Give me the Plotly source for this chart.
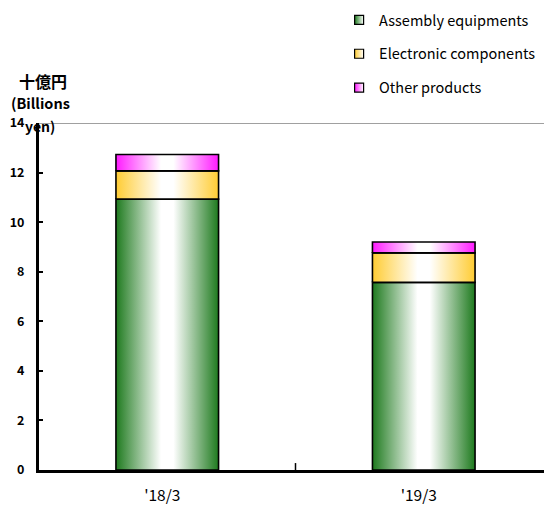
import plotly.graph_objects as go

categories = ["'18/3", "'19/3"]
series_names = ["Assembly equipments", "Electronic components", "Other products"]
assembly = [10.93, 7.57]
electronic = [1.14, 1.19]
other = [0.66, 0.44]
y_ticks = [0, 2, 4, 6, 8, 10, 12, 14]

series_values = [assembly, electronic, other]
edge_colors = ["#1E7A1E", "#FFCC33", "#FF1AFF"]
half_width = 0.2

fig = go.Figure()
base = [0.0] * len(categories)
for s, (name, vals, col) in enumerate(zip(series_names, series_values, edge_colors)):
    for i, v in enumerate(vals):
        b = base[i]
        t = b + v
        fig.add_trace(go.Scatter(
            x=[i - half_width, i + half_width, i + half_width, i - half_width, i - half_width],
            y=[b, b, t, t, b],
            mode="lines",
            fill="toself",
            fillcolor=col,
            fillgradient=dict(type="horizontal",
                              colorscale=[[0, col], [0.44, "#FFFFFF"], [0.56, "#FFFFFF"], [1, col]]),
            line=dict(color="black", width=1.6),
            name=name,
            legendgroup=name,
            showlegend=False,
            hoverinfo="skip",
        ))
        base[i] = t
    # legend entry: small square swatch
    fig.add_trace(go.Scatter(
        x=[None], y=[None], mode="markers", name=name, legendgroup=name,
        marker=dict(symbol="square", size=9, color=col,
                    gradient=dict(type="horizontal", color="#FFFFFF"),
                    line=dict(color="black", width=1.2)),
        showlegend=True, hoverinfo="skip",
    ))

fig.add_shape(type="line", xref="paper", yref="y", x0=0, x1=1, y0=14, y1=14,
              line=dict(color="#808080", width=1.5), layer="below")

fig.update_layout(
    width=544, height=498,
    margin=dict(l=31, r=0, t=115, b=36, autoexpand=False),
    paper_bgcolor="white", plot_bgcolor="white",
    font=dict(family="Noto Sans CJK JP, DejaVu Sans", color="black", size=12),
    legend=dict(x=0.585, y=1.343, xanchor="left", yanchor="top",
                font=dict(size=14.5), tracegroupgap=12, bgcolor="rgba(0,0,0,0)",
                itemwidth=30),
    xaxis=dict(range=[-0.5, 1.5], tickmode="array", tickvals=[0, 1], ticktext=categories,
               showgrid=False, zeroline=False, showline=True, linecolor="black", linewidth=3,
               ticks="", tickfont=dict(size=15.5), ticklabelstandoff=9, ticklabelshift=-5),
    yaxis=dict(range=[0, 14], tickmode="array", tickvals=y_ticks,
               ticktext=[str(v) for v in y_ticks],
               showgrid=False, zeroline=False, showline=True, linecolor="black", linewidth=3,
               ticks="inside", ticklen=4, tickwidth=1.5, tickcolor="black",
               ticklabelstandoff=9,
               tickfont=dict(size=12.5, weight="bold")),
)

# middle separator tick on x axis
fig.add_shape(type="line", xref="x", yref="paper", x0=0.5, x1=0.5, y0=0, y1=0.02,
              line=dict(color="black", width=1.5))

fig.add_annotation(text="十億円", xref="paper", yref="paper", x=-0.043, y=1.12,
                   xanchor="left", yanchor="middle", showarrow=False,
                   font=dict(size=16, weight="bold"))
fig.add_annotation(text="(Billions", xref="paper", yref="paper", x=-0.058, y=1.06,
                   xanchor="left", yanchor="middle", showarrow=False,
                   font=dict(size=14.5, weight="bold"))
fig.add_annotation(text="yen)", xref="paper", yref="paper", x=-0.032, y=0.99,
                   xanchor="left", yanchor="middle", showarrow=False,
                   font=dict(size=14, weight="bold"))

fig.write_html("out.html")
